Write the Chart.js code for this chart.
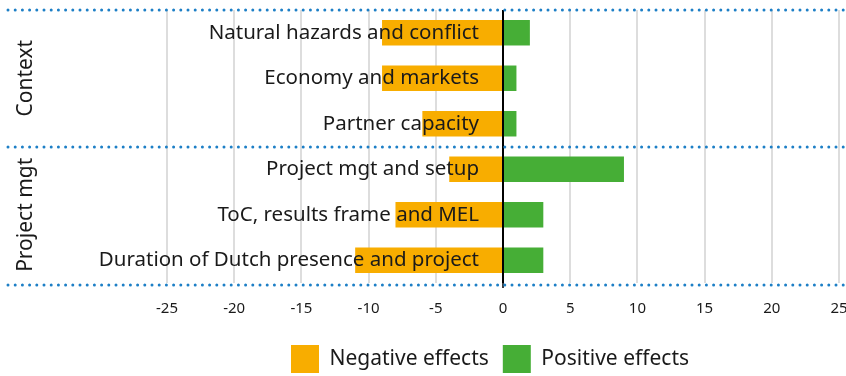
<!DOCTYPE html>
<html lang="en">
<head>
<meta charset="UTF-8">
<title>Effects by factor</title>
<script src="https://cdn.jsdelivr.net/npm/chart.js"></script>
<style>
body {margin:0; background:#fff;}
#wrap {width:846px; height:376px;}
</style>
</head>
<body>
<div id="wrap"><canvas id="effectsChart" width="846" height="376"></canvas></div>
<script>
// factors, top to bottom
var categories = [
  "Natural hazards and conflict",
  "Economy and markets",
  "Partner capacity",
  "Project mgt and setup",
  "ToC, results frame and MEL",
  "Duration of Dutch presence and project"
];
var negativeEffects = [-9, -9, -6, -4, -8, -11];
var positiveEffects = [2, 1, 1, 9, 3, 3];
// group names with first and last factor index
var groupNames = ["Context", "Project mgt"];
var groupFirst = [0, 3];
var groupLast = [2, 5];
var xMin = -25, xMax = 25, xStep = 5;

var textColor = "#1a1a1a";
var fontFamily = '"Noto Sans", "Open Sans", sans-serif';

// labels on top of the bars, dotted group separators and group names
var overlay = {
  id: "overlay",
  afterLayout: function(chart) {
    // nudge the legend a bit lower and to the left
    var lg = chart.legend;
    lg.top += 7; lg.bottom += 7;
    lg.left -= 13; lg.right -= 13;
  },
  afterDatasetsDraw: function(chart) {
    var ctx = chart.ctx;
    var xs = chart.scales.x, ys = chart.scales.y;
    var zero = xs.getPixelForValue(0);
    ctx.save();
    ctx.font = "20.5px " + fontFamily;
    ctx.fillStyle = textColor;
    ctx.textAlign = "right";
    ctx.textBaseline = "middle";
    for (var i = 0; i < categories.length; i++) {
      ctx.fillText(categories[i], zero - 24, ys.getPixelForValue(i));
    }

    // dotted lines above each group and below the last
    var lines = [];
    for (var g = 0; g < groupNames.length; g++) {
      lines.push(ys.getPixelForValue(groupFirst[g] - 0.5));
    }
    lines.push(ys.getPixelForValue(groupLast[groupLast.length - 1] + 0.5) + 2);
    ctx.strokeStyle = "#1d7fc6";
    ctx.lineWidth = 3;
    ctx.lineCap = "round";
    ctx.setLineDash([0, 7.2]);
    lines.forEach(function(yy) {
      ctx.beginPath();
      ctx.moveTo(8, Math.round(yy));
      ctx.lineTo(chart.width, Math.round(yy));
      ctx.stroke();
    });
    ctx.setLineDash([]);

    // rotated group names on the left
    ctx.font = "21px " + fontFamily;
    ctx.textAlign = "center";
    for (var k = 0; k < groupNames.length; k++) {
      var mid = (ys.getPixelForValue(groupFirst[k] - 0.5) + ys.getPixelForValue(groupLast[k] + 0.5)) / 2;
      ctx.save();
      ctx.translate(26, mid);
      ctx.rotate(-Math.PI / 2);
      ctx.fillText(groupNames[k], 0, 0);
      ctx.restore();
    }
    ctx.restore();
  }
};

new Chart("effectsChart", {
  type: "bar",
  data: {
    labels: categories,
    datasets: [
      {
        label: "Negative effects",
        data: negativeEffects,
        backgroundColor: "#f8ad00",
        borderWidth: 0,
        barPercentage: 0.56,
        categoryPercentage: 1
      },
      {
        label: "Positive effects",
        data: positiveEffects,
        backgroundColor: "#46ae36",
        borderWidth: 0,
        barPercentage: 0.56,
        categoryPercentage: 1
      }
    ]
  },
  options: {
    indexAxis: "y",
    responsive: false,
    animation: false,
    layout: {padding: {left: 167, right: 7, top: 10, bottom: 0}},
    scales: {
      x: {
        stacked: true,
        min: xMin,
        max: xMax,
        border: {display: false},
        afterFit: function(s) {
          s.paddingLeft = 0;
          s.paddingRight = 0;
          s.height -= 6;
        },
        ticks: {
          stepSize: xStep,
          color: textColor,
          font: {family: fontFamily, size: 15},
          padding: 12
        },
        grid: {
          lineWidth: 2,
          color: function(c) { return c.tick && c.tick.value === 0 ? "#000" : "#dddddd"; },
          tickColor: function(c) { return c.tick && c.tick.value === 0 ? "#000" : "rgba(0,0,0,0)"; },
          tickLength: 5,
          tickWidth: 1.5
        }
      },
      y: {
        stacked: true,
        display: false
      }
    },
    plugins: {
      tooltip: {enabled: false},
      legend: {
        position: "bottom",
        labels: {
          boxWidth: 28,
          boxHeight: 28,
          color: textColor,
          font: {family: fontFamily, size: 21},
          padding: 14
        }
      }
    }
  },
  plugins: [overlay]
});
</script>
</body>
</html>
